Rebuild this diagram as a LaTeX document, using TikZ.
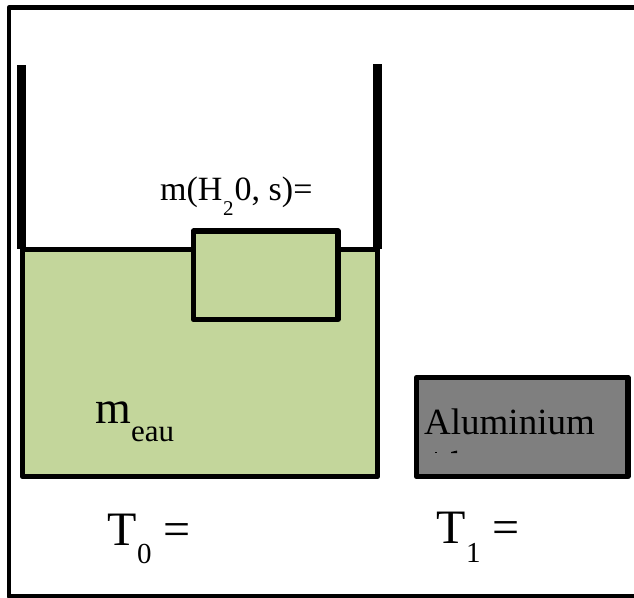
\documentclass[tikz,border=0pt]{standalone}
\usepackage{fontspec}
\setmainfont{Liberation Serif}
\usepackage{tikz}
\definecolor{calInk}{HTML}{000000}
\definecolor{calWater}{HTML}{C3D69B}
\definecolor{calMetal}{HTML}{7F7F7F}
\tikzset{
  calFrame/.style={draw=calInk,line width=4.5pt,line join=round},
  calWall/.style={draw=calInk,line width=9pt},
  calBlock/.style={draw=calInk,line width=5.5pt,line join=round},
  calLabel/.style={inner sep=0pt,anchor=base west,text=calInk}
}
\newcommand{\calSize}[1]{\fontsize{#1}{#1}\selectfont}
\begin{document}
\begin{tikzpicture}[x=1pt,y=-1pt]
\useasboundingbox (0,0) rectangle (634,597);
\draw[calFrame] (640,7.5) -- (9,7.5) -- (9,596.5) -- (640,596.5);
\draw[calWall] (21.5,65) -- (21.5,249);
\draw[calWall] (377.5,64) -- (377.5,249);
\draw[calBlock,fill=calWater] (22.5,249.5) rectangle (377.5,476.5);
\draw[calBlock,fill=calWater] (193.5,231) rectangle (338,319.5);
\draw[calBlock,fill=calMetal] (416.5,377.5) rectangle (628,476.5);
\fill[calInk] (435,451.5) rectangle (437,453);
\fill[calInk] (451,452) -- (455,451) -- (457,450.5) -- (457,453) -- (451,453) -- cycle;
\node[calLabel,font=\calSize{34}] (ice) at (160,200) {m(H};
\node[calLabel,font=\calSize{21}] (iceSub) at (223,215) {2};
\node[calLabel,font=\calSize{34}] (iceEq) at (234.5,200) {0, s)=};
\node[calLabel,font=\calSize{46}] (water) at (95,423) {m};
\node[calLabel,font=\calSize{31}] (waterSub) at (131,441) {eau};
\node[calLabel,font=\calSize{37}] (metal) at (424,434) {Aluminium};
\node[calLabel,font=\calSize{48}] (tempA) at (107,545) {T};
\node[calLabel,font=\calSize{29}] (tempASub) at (137,563) {0};
\node[calLabel,font=\calSize{48}] (tempAEq) at (163,545) {=};
\node[calLabel,font=\calSize{48}] (tempB) at (436,543) {T};
\node[calLabel,font=\calSize{29}] (tempBSub) at (466,562) {1};
\node[calLabel,font=\calSize{48}] (tempBEq) at (492,543) {=};
\end{tikzpicture}
\end{document}
